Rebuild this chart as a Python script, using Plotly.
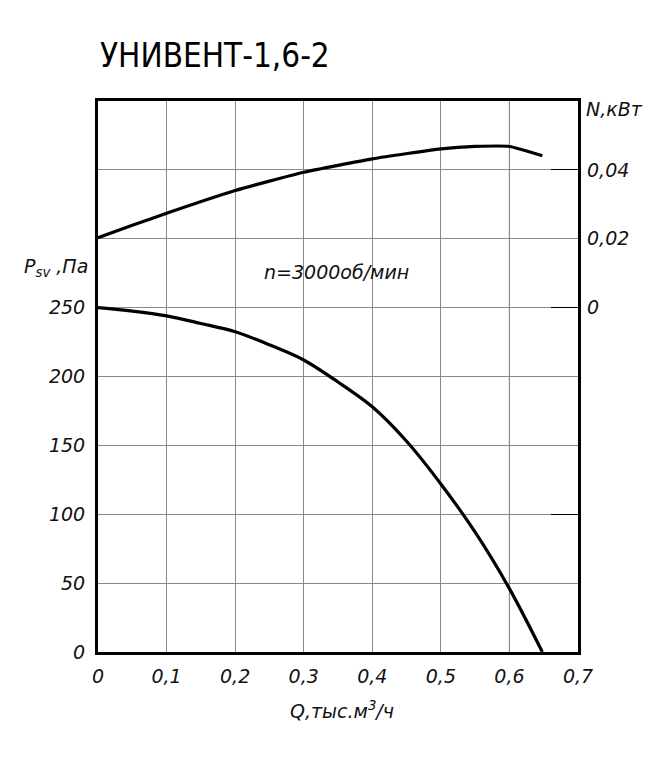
import plotly.graph_objects as go

# --- Данные ---
q_pressure = [0, 0.05, 0.1, 0.15, 0.2, 0.25, 0.3, 0.35, 0.4, 0.45, 0.5, 0.55, 0.6, 0.648]
p_sv = [250, 247.5, 244, 238.5, 232.5, 223, 212, 196, 178, 153, 122, 87, 46, 0]

q_power = [0, 0.05, 0.1, 0.2, 0.3, 0.4, 0.5, 0.55, 0.6, 0.648]
n_kw = [0.0203, 0.0239, 0.0274, 0.034, 0.0393, 0.0432, 0.0461, 0.0468, 0.0468, 0.0441]

x_ticks = [0, 0.1, 0.2, 0.3, 0.4, 0.5, 0.6, 0.7]
x_labels = ["0", "0,1", "0,2", "0,3", "0,4", "0,5", "0,6", "0,7"]
p_ticks = [0, 50, 100, 150, 200, 250]
p_labels = ["0", "50", "100", "150", "200", "250"]
p_grid_upper = [300, 350]  # линии сетки без подписей
n_ticks = [0, 0.02, 0.04]
n_labels = ["0", "0,02", "0,04"]
n_marks = [-0.06, 0, 0.04]  # короткие риски у правой оси

TICK_FONT = dict(family="DejaVu Sans", size=19, color="#111", style="italic")
LABEL_FONT = dict(family="DejaVu Sans", size=19, color="#111", style="italic")
GRID = "#8a8a8a"

fig = go.Figure()

fig.add_trace(go.Scatter(
    x=q_pressure, y=p_sv, mode="lines",
    line=dict(color="black", width=3.2, shape="spline", smoothing=0.9),
    showlegend=False, hoverinfo="skip",
))
fig.add_trace(go.Scatter(
    x=q_power, y=n_kw, yaxis="y2", mode="lines",
    line=dict(color="black", width=3.2, shape="spline", smoothing=0.5),
    showlegend=False, hoverinfo="skip",
))
# пустые следы, чтобы оси y3/y4 отрисовались
fig.add_trace(go.Scatter(x=[None], y=[None], yaxis="y3", showlegend=False, hoverinfo="skip"))
fig.add_trace(go.Scatter(x=[None], y=[None], yaxis="y4", showlegend=False, hoverinfo="skip"))

# выделенная вертикаль сетки
fig.add_shape(type="line", xref="x", yref="paper", x0=x_ticks[6], x1=x_ticks[6], y0=0, y1=1,
              line=dict(color="black", width=1), layer="below")

# страница имеет отступ body 8px, поэтому фигура чуть меньше окна
fig.update_layout(
    width=659, height=754,
    margin=dict(l=90, r=89, t=93, b=110),
    paper_bgcolor="white", plot_bgcolor="white",
    title=dict(text="УНИВЕНТ-1,6-2", x=92 / 659, xanchor="left", y=1 - 47 / 754, yanchor="middle",
               font=dict(family="DejaVu Sans Condensed", size=33, color="black")),
    xaxis=dict(range=[0, 0.7], tickvals=x_ticks, ticktext=x_labels, tickfont=TICK_FONT,
               showgrid=True, gridcolor=GRID, gridwidth=1, zeroline=False,
               showline=True, linecolor="black", linewidth=3, mirror=True, ticks="",
               ticklabelstandoff=5),
    yaxis=dict(range=[0, 400], tickvals=p_ticks, ticktext=p_labels, tickfont=TICK_FONT,
               showgrid=True, gridcolor=GRID, gridwidth=1, zeroline=False,
               showline=True, linecolor="black", linewidth=3, mirror=True, ticks="",
               ticklabelstandoff=6),
    yaxis2=dict(range=[-0.1, 0.06], overlaying="y", side="right", tickvals=n_ticks, ticktext=n_labels,
                tickfont=TICK_FONT, showgrid=False, zeroline=False, ticks="", ticklabelstandoff=8),
    yaxis3=dict(range=[-0.1, 0.06], overlaying="y", side="right", tickvals=n_marks,
                showticklabels=False, showgrid=False, zeroline=False,
                ticks="inside", ticklen=27, tickwidth=1, tickcolor="black"),
    yaxis4=dict(range=[0, 400], overlaying="y", side="left", tickvals=p_grid_upper,
                showticklabels=False, showgrid=True, gridcolor=GRID, gridwidth=1,
                zeroline=False, ticks=""),
    annotations=[
        dict(text="P<sub>sv</sub> ,Па", xref="paper", yref="paper", x=-0.017, y=0.698,
             xanchor="right", yanchor="middle", showarrow=False, font=LABEL_FONT),
        dict(text="N,кВт", xref="paper", yref="paper", x=1.013, y=0.986,
             xanchor="left", yanchor="middle", showarrow=False, font=LABEL_FONT),
        dict(text="Q,тыс.м<sup>3</sup>/ч", xref="paper", yref="paper", x=0.508, y=-0.105,
             xanchor="center", yanchor="middle", showarrow=False, font=LABEL_FONT),
        dict(text="n=3000об/мин", xref="paper", yref="paper", x=0.496, y=0.689,
             xanchor="center", yanchor="middle", showarrow=False, font=LABEL_FONT),
    ],
)

fig.write_html("out.html")
